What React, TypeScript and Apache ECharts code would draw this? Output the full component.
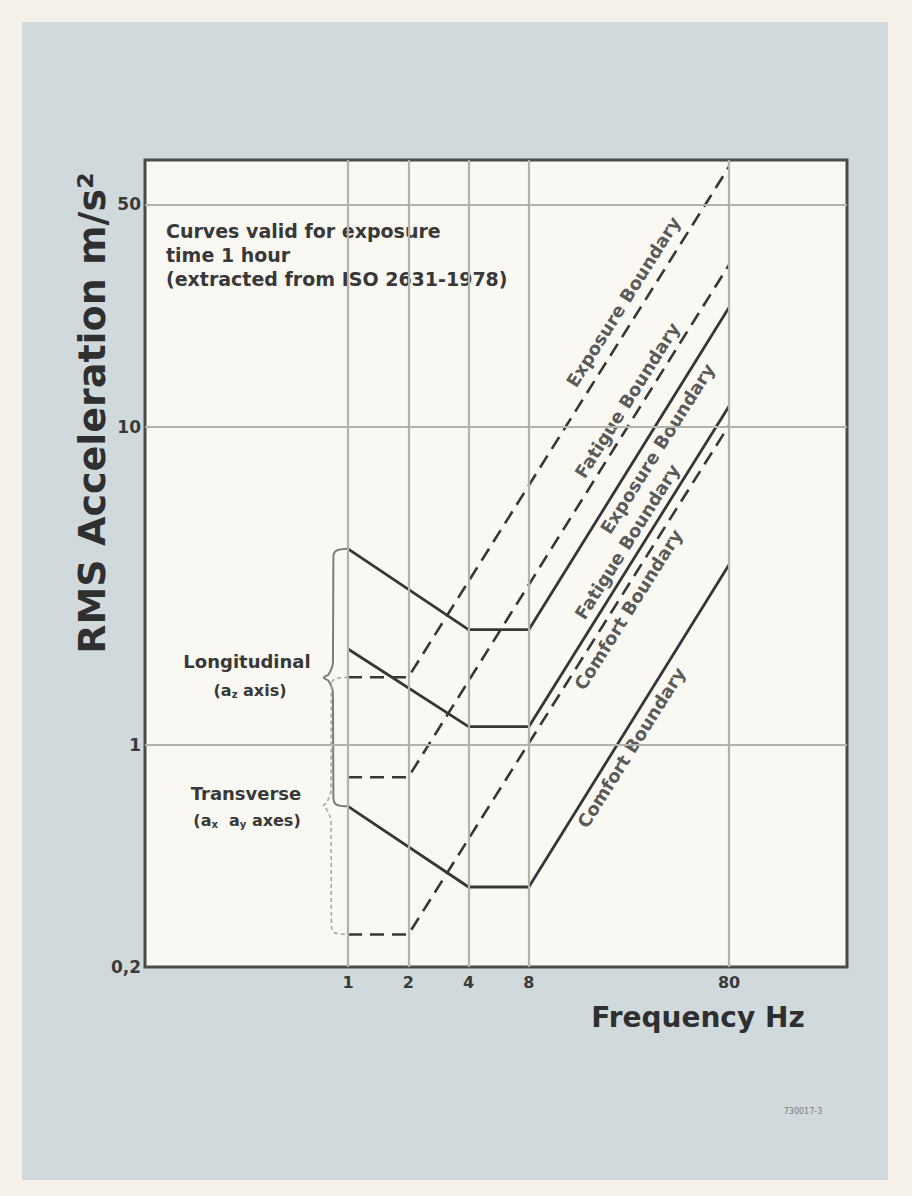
import React, { useEffect, useRef } from 'react';
import * as echarts from 'echarts';

// ---- axis ticks ----
const freqTicks = [1, 2, 4, 8, 80];
const accelTicks = [0.2, 1, 10, 50];
const accelGrid = [1, 10, 50];

// ---- longitudinal (a_z) boundaries, solid ----
const longFreq = [1, 4, 8, 80];
const longExposure = [4.13, 2.3, 2.3, 23.7];
const longFatigue = [2.0, 1.14, 1.14, 11.6];
const longComfort = [0.64, 0.357, 0.357, 3.68];

// ---- transverse (a_x, a_y) boundaries, dashed ----
const transFreq = [1, 2, 80];
const transExposure = [1.63, 1.63, 65.7];
const transFatigue = [0.79, 0.79, 32.3];
const transComfort = [0.253, 0.253, 10.1];

// ---- rotated curve labels ----
const boundaryLabels = [
  'Exposure Boundary',
  'Fatigue Boundary',
  'Exposure Boundary',
  'Fatigue Boundary',
  'Comfort Boundary',
  'Comfort Boundary',
];
const labelFreq = [23.7, 24.8, 35.1, 24.8, 25.1, 26.0];
const labelAccel = [24.7, 12.1, 8.53, 4.35, 2.66, 0.98];

const FONT = '"DejaVu Sans", sans-serif';
const INK = '#363636';

function pairs(xs: number[], ys: number[]) {
  return xs.map((x, i) => [x, ys[i]]);
}

function brace(top: number, bottom: number, xBar: number, xTip: number) {
  const mid = Math.sqrt(top * bottom);
  return [
    [1, top],
    [xBar + 0.03, top * 0.985],
    [xBar + 0.004, top * 0.94],
    [xBar, mid * 1.12],
    [xBar - 0.04, mid * 1.025],
    [xTip, mid],
    [xBar - 0.04, mid / 1.025],
    [xBar, mid / 1.12],
    [xBar + 0.004, bottom / 0.94],
    [xBar + 0.03, bottom / 0.985],
    [1, bottom],
  ];
}

export default function App() {
  const ref = useRef<HTMLDivElement>(null);

  useEffect(() => {
    if (!ref.current) return;
    const chart = echarts.init(ref.current, null, { renderer: 'svg' });

    const solid = (name: string, ys: number[]) => ({
      name,
      type: 'line',
      data: pairs(longFreq, ys),
      symbol: 'none',
      silent: true,
      z: 3,
      lineStyle: { color: INK, width: 2.8, type: 'solid' },
    });
    const dashed = (name: string, ys: number[]) => ({
      name,
      type: 'line',
      data: pairs(transFreq, ys),
      symbol: 'none',
      silent: true,
      z: 3,
      lineStyle: { color: INK, width: 2.6, type: [14, 8] },
    });

    const option: any = {
      animation: false,
      backgroundColor: '#f5f1e9',
      grid: {
        left: 145,
        top: 160,
        width: 702,
        height: 807,
        show: true,
        backgroundColor: '#faf8f3',
        borderColor: '#4a4a4a',
        borderWidth: 3,
      },
      xAxis: {
        type: 'log',
        logBase: 10,
        min: 0.0968,
        max: 310.8,
        axisLine: { show: false },
        axisTick: { show: false },
        splitLine: { show: false },
        minorTick: { show: false },
        minorSplitLine: { show: false },
        axisLabel: {
          customValues: freqTicks,
          formatter: (v: number) => String(Math.round(v)),
          margin: 7,
          fontFamily: FONT,
          fontSize: 16,
          fontWeight: 'bold',
          color: '#3a3a3a',
        },
      },
      yAxis: {
        type: 'log',
        logBase: 10,
        min: 0.2,
        max: 69,
        axisLine: { show: false },
        axisTick: { show: false },
        splitLine: { show: false },
        minorTick: { show: false },
        minorSplitLine: { show: false },
        axisLabel: {
          customValues: accelTicks,
          formatter: (v: number) => (v < 0.5 ? '0,2' : String(Math.round(v))),
          margin: 4,
          fontFamily: FONT,
          fontSize: 17,
          fontWeight: 'bold',
          color: '#3a3a3a',
        },
      },
      graphic: [
        {
          type: 'rect',
          z: -100,
          silent: true,
          shape: { x: 22, y: 22, width: 866, height: 1158 },
          style: { fill: '#d0dadd' },
        },
        {
          type: 'text',
          x: 92,
          y: 413,
          rotation: Math.PI / 2,
          style: {
            text: 'RMS Acceleration m/s²',
            align: 'center',
            verticalAlign: 'middle',
            fontFamily: FONT,
            fontSize: 38,
            fontWeight: 'bold',
            fill: '#2f2f2f',
          },
        },
        {
          type: 'text',
          x: 698,
          y: 1017,
          style: {
            text: 'Frequency Hz',
            align: 'center',
            verticalAlign: 'middle',
            fontFamily: FONT,
            fontSize: 28,
            fontWeight: 'bold',
            fill: '#2f2f2f',
          },
        },
        {
          type: 'text',
          x: 166,
          y: 219,
          style: {
            text: 'Curves valid for exposure\ntime 1 hour\n(extracted from ISO 2631-1978)',
            align: 'left',
            verticalAlign: 'top',
            fontFamily: FONT,
            fontSize: 19,
            fontWeight: 'bold',
            lineHeight: 24,
            fill: '#383838',
          },
        },
        {
          type: 'text',
          x: 247,
          y: 661,
          style: {
            text: 'Longitudinal',
            align: 'center',
            verticalAlign: 'middle',
            fontFamily: FONT,
            fontSize: 18,
            fontWeight: 'bold',
            fill: '#383838',
          },
        },
        {
          type: 'text',
          x: 250,
          y: 690,
          style: {
            text: '(a{s|z} axis)',
            align: 'center',
            verticalAlign: 'middle',
            fontFamily: FONT,
            fontSize: 16,
            fontWeight: 'bold',
            fill: '#383838',
            rich: {
              s: { fontFamily: FONT, fontSize: 10, fontWeight: 'bold', fill: '#383838', padding: [9, 0, 0, 0] },
            },
          },
        },
        {
          type: 'text',
          x: 246,
          y: 793,
          style: {
            text: 'Transverse',
            align: 'center',
            verticalAlign: 'middle',
            fontFamily: FONT,
            fontSize: 18,
            fontWeight: 'bold',
            fill: '#383838',
          },
        },
        {
          type: 'text',
          x: 247,
          y: 820,
          style: {
            text: '(a{s|x}  a{s|y} axes)',
            align: 'center',
            verticalAlign: 'middle',
            fontFamily: FONT,
            fontSize: 16,
            fontWeight: 'bold',
            fill: '#383838',
            rich: {
              s: { fontFamily: FONT, fontSize: 10, fontWeight: 'bold', fill: '#383838', padding: [9, 0, 0, 0] },
            },
          },
        },
        {
          type: 'text',
          x: 803,
          y: 1111,
          style: {
            text: '730017-3',
            align: 'center',
            verticalAlign: 'middle',
            fontFamily: FONT,
            fontSize: 8,
            fill: '#7a7a7a',
          },
        },
      ],
      series: [
        {
          name: 'grid',
          type: 'line',
          data: [],
          silent: true,
          z: 1,
          markLine: {
            silent: true,
            symbol: ['none', 'none'],
            label: { show: false },
            lineStyle: { color: '#b3b3ad', width: 2.2, type: 'solid' },
            data: [
              ...freqTicks.map((v) => ({ xAxis: v })),
              ...accelGrid.map((v) => ({ yAxis: v })),
            ],
          },
        },
        {
          name: 'brace-long',
          type: 'line',
          data: brace(longExposure[0], longComfort[0], 0.841, 0.755),
          symbol: 'none',
          smooth: 0.35,
          silent: true,
          z: 2,
          lineStyle: { color: '#7c7c7c', width: 2 },
        },
        {
          name: 'brace-trans',
          type: 'line',
          data: brace(transExposure[0], transComfort[0], 0.822, 0.752),
          symbol: 'none',
          smooth: 0.35,
          silent: true,
          z: 2,
          lineStyle: { color: '#a8a8a8', width: 1.6, type: [4, 3] },
        },
        solid('Longitudinal exposure', longExposure),
        solid('Longitudinal fatigue', longFatigue),
        solid('Longitudinal comfort', longComfort),
        dashed('Transverse exposure', transExposure),
        dashed('Transverse fatigue', transFatigue),
        dashed('Transverse comfort', transComfort),
        {
          name: 'labels',
          type: 'scatter',
          symbolSize: 1,
          silent: true,
          z: 4,
          itemStyle: { color: 'rgba(0,0,0,0)' },
          data: boundaryLabels.map((name, i) => ({ name, value: [labelFreq[i], labelAccel[i]] })),
          label: {
            show: true,
            position: 'inside',
            formatter: '{b}',
            rotate: 57.8,
            align: 'center',
            verticalAlign: 'middle',
            fontFamily: FONT,
            fontSize: 18,
            fontWeight: 'bold',
            color: '#2e2e2e',
            textBorderWidth: 0,
          },
        },
      ],
    };

    chart.setOption(option);
    return () => chart.dispose();
  }, []);

  return (
    <div
      ref={ref}
      style={{ position: 'fixed', left: 0, top: 0, width: 912, height: 1196 }}
    />
  );
}
